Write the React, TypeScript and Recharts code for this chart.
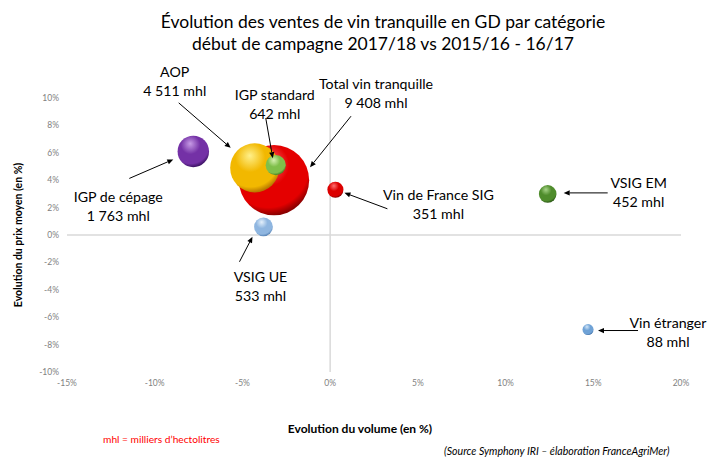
import React from 'react';
import { ScatterChart, Scatter, XAxis, YAxis, ZAxis, ReferenceLine } from 'recharts';

const categories = ['Total vin tranquille', 'AOP', 'IGP standard', 'IGP de cépage', 'VSIG UE', 'Vin de France SIG', 'VSIG EM', 'Vin étranger'];
const volumeChange = [-3.2, -4.3, -3.1, -7.8, -3.8, 0.3, 12.4, 14.7];
const priceChange = [4.0, 4.9, 5.1, 6.1, 0.6, 3.3, 3.0, -6.9];
const volumesMhl = [9408, 4511, 642, 1763, 533, 351, 452, 88];
const xTicks = [-15, -10, -5, 0, 5, 10, 15, 20];
const yTicks = [-10, -8, -6, -4, -2, 0, 2, 4, 6, 8, 10];

// styles: [highlight, base, edge]
const bubbleColors = [
  ['#ff7a7a', '#e40000', '#8a0000'],
  ['#fff08a', '#f2b800', '#b87800'],
  ['#d6f0b0', '#7fbf4a', '#4a7f25'],
  ['#c79be6', '#7431a6', '#3e1466'],
  ['#e4f0fb', '#8fb6e0', '#5a86b8'],
  ['#ff7070', '#dc0000', '#860000'],
  ['#a7d488', '#4f8c2c', '#2c5a16'],
  ['#d2e6f8', '#6fa2d6', '#3f70a8'],
];

// annotation placement (px offsets from bubble centre): text centre, arrow start, arrow end
const annotationOffsets = [
  { tx: 102, ty: -97, ax: 77, ay: -64, bx: 36, by: -13 },
  { tx: -80, ty: -96, ax: -76, ay: -65, bx: -24, by: -20 },
  { tx: -1, ty: -71, ax: -10, ay: -47, bx: -3, by: -7 },
  { tx: -75, ty: 45, ax: -64, ay: 27, bx: -20, by: 8 },
  { tx: -3, ty: 50, ax: -24, ay: 35, bx: -11, by: 10 },
  { tx: 103, ty: 5, ax: 52, ay: 19, bx: 9, by: 3 },
  { tx: 91, ty: -11, ax: 60, ay: -1, bx: 16, by: -1 },
  { tx: 80, ty: -7, ax: 50, ay: 1, bx: 10, by: 1 },
];

const fmt = (n: number) => String(n).replace(/\B(?=(\d{3})+(?!\d))/g, ' ');

const data = categories.map((name, i) => ({
  i,
  name,
  x: volumeChange[i],
  y: priceChange[i],
  z: volumesMhl[i],
}));

const FONT = 'Lato, "Open Sans", sans-serif';

const Bubble = (props: any) => {
  const { cx, cy, width, payload } = props;
  if (cx == null || cy == null) return null;
  const i = payload.i;
  const r = width / 2;
  const [hi, base, edge] = bubbleColors[i];
  const id = `bub-grad-${i}`;
  return (
    <g>
      <defs>
        <radialGradient id={id} cx="42%" cy="32%" r="68%" fx="40%" fy="25%">
          <stop offset="0%" stopColor={hi} />
          <stop offset="45%" stopColor={base} />
          <stop offset="85%" stopColor={base} />
          <stop offset="100%" stopColor={edge} />
        </radialGradient>
      </defs>
      <circle cx={cx} cy={cy} r={r} fill={`url(#${id})`} />
    </g>
  );
};

const Annotation = (props: any) => {
  const { cx, cy, payload } = props;
  if (cx == null || cy == null) return null;
  const i = payload.i;
  const o = annotationOffsets[i];
  const x1 = cx + o.ax, y1 = cy + o.ay, x2 = cx + o.bx, y2 = cy + o.by;
  const dx = x2 - x1, dy = y2 - y1;
  const len = Math.sqrt(dx * dx + dy * dy) || 1;
  const ux = dx / len, uy = dy / len;
  const hl = 6, hw = 2.6;
  const bx = x2 - ux * hl, by = y2 - uy * hl;
  const pts = `${x2},${y2} ${bx - uy * hw},${by + ux * hw} ${bx + uy * hw},${by - ux * hw}`;
  return (
    <g>
      <line x1={x1} y1={y1} x2={bx} y2={by} stroke="#000" strokeWidth={1} />
      <polygon points={pts} fill="#000" />
      <text x={cx + o.tx} y={cy + o.ty} textAnchor="middle" dominantBaseline="central" fontFamily={FONT} fontSize={14.2} fill="#000">
        {payload.name}
      </text>
      <text x={cx + o.tx} y={cy + o.ty + 19} textAnchor="middle" dominantBaseline="central" fontFamily={FONT} fontSize={14.2} fill="#000">
        {fmt(payload.z) + ' mhl'}
      </text>
    </g>
  );
};

const tickStyle = { fill: '#7f7f7f', fontSize: 8.5, fontFamily: FONT };

export default function App() {
  return (
    <div style={{ position: 'absolute', left: 0, top: 0, width: 708, height: 457, background: '#fff', fontFamily: FONT }}>
      <ScatterChart width={708} height={457} margin={{ top: 98, right: 27, bottom: 55, left: 7 }}>
        <XAxis
          type="number"
          dataKey="x"
          domain={[-15, 20]}
          ticks={xTicks}
          tickFormatter={(v: number) => `${v}%`}
          axisLine={false}
          tickLine={false}
          height={30}
          tick={tickStyle}
        />
        <YAxis
          type="number"
          dataKey="y"
          domain={[-10, 10]}
          ticks={yTicks}
          tickFormatter={(v: number) => `${v}%`}
          axisLine={false}
          tickLine={false}
          width={60}
          tick={tickStyle}
        />
        <ZAxis type="number" dataKey="z" domain={[0, 9408]} range={[60, 3880]} />
        <ReferenceLine x={0} stroke="#d9d9d9" strokeWidth={1.5} />
        <ReferenceLine y={0} stroke="#d9d9d9" strokeWidth={1.5} />
        <Scatter data={data} shape={<Bubble />} isAnimationActive={false} />
        <Scatter data={data} shape={<Annotation />} isAnimationActive={false} />
      </ScatterChart>
      <div style={{ position: 'absolute', left: 0, top: 11, width: 766, textAlign: 'center', fontSize: 17.5, lineHeight: '22px', color: '#000' }}>
        <div>Évolution des ventes de vin tranquille en GD par catégorie</div>
        <div>début de campagne 2017/18 vs 2015/16 - 16/17</div>
      </div>
      <div style={{ position: 'absolute', left: 18, top: 235, width: 0, height: 0 }}>
        <div style={{ position: 'absolute', left: -100, top: -8, width: 200, textAlign: 'center', transform: 'rotate(-90deg)', fontWeight: 700, fontSize: 10.5, lineHeight: '16px', whiteSpace: 'nowrap' }}>
          Evolution du prix moyen (en %)
        </div>
      </div>
      <div style={{ position: 'absolute', left: 260, top: 421, width: 200, textAlign: 'center', fontWeight: 700, fontSize: 12, lineHeight: '16px', whiteSpace: 'nowrap' }}>
        Evolution du volume (en %)
      </div>
      <div style={{ position: 'absolute', left: 103, top: 432, fontSize: 10.2, lineHeight: '14px', color: '#ff0000', whiteSpace: 'nowrap' }}>
        mhl = milliers d’hectolitres
      </div>
      <div style={{ position: 'absolute', left: 444, top: 444, fontSize: 10.6, lineHeight: '14px', fontStyle: 'italic', color: '#000', whiteSpace: 'nowrap' }}>
        (Source Symphony IRI – élaboration FranceAgriMer)
      </div>
    </div>
  );
}
